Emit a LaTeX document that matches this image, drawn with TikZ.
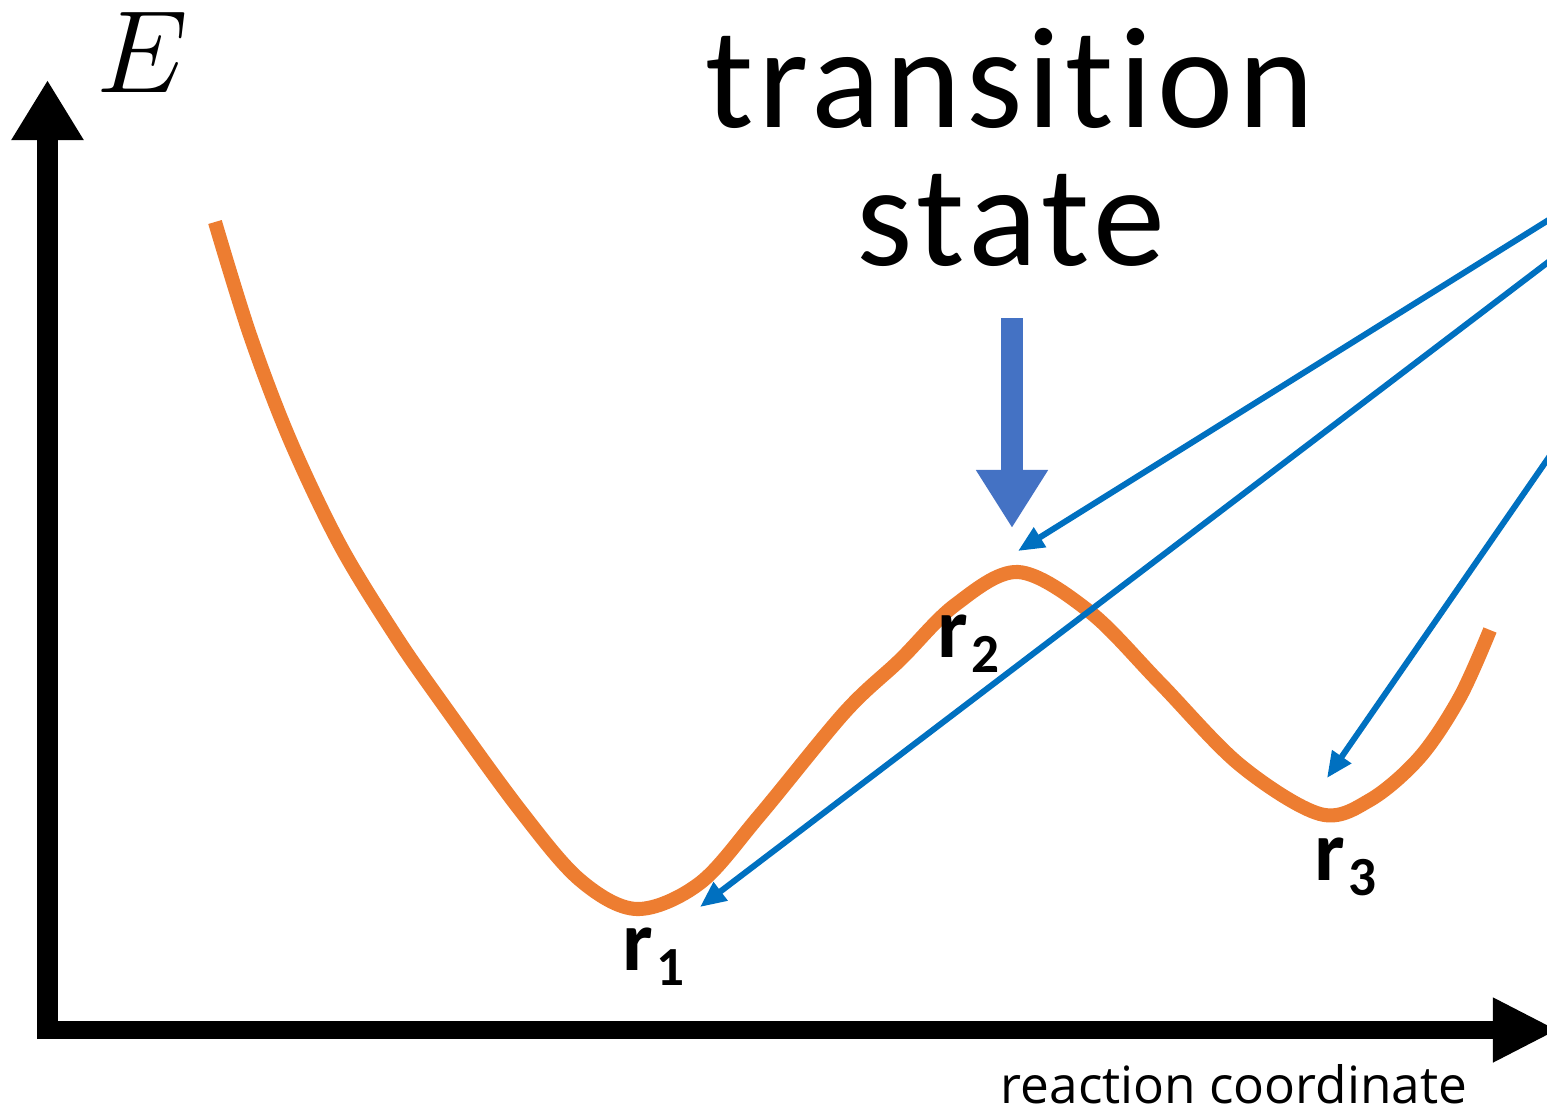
\documentclass[tikz,border=0pt]{standalone}
\usepackage{graphicx}
\usepackage{fontspec}
\setmainfont{Carlito}[Ligatures=NoCommon]
\newfontfamily\titlefont{Carlito}[Ligatures=NoCommon,LetterSpace=3.6]
\newfontfamily\rcfont{Open Sans}
\usetikzlibrary{arrows.meta}
\definecolor{curveorange}{RGB}{237,125,49}
\definecolor{pointblue}{RGB}{0,112,192}
\definecolor{tsblue}{RGB}{68,114,196}
\begin{document}
\begin{tikzpicture}[x=0.01cm,y=-0.01cm,
  axisline/.style={line width=#1, -{Triangle[width=0.68cm,length=0.6cm]}},
  curveline/.style={curveorange, line width=4pt},
  pointer/.style={pointblue, line width=1.7pt, -{Triangle[width=0.22cm,length=0.26cm]}},
  tsarrow/.style={tsblue, line width=6.5pt, -{Triangle[width=0.68cm,length=0.58cm]}},
  titletext/.style={font=\titlefont\fontsize{41}{41}\selectfont, inner sep=0pt, anchor=base},
  rlabel/.style={font=\bfseries\fontsize{24.5}{24.5}\selectfont, inner sep=0pt, anchor=base west},
]
\useasboundingbox (0,0) rectangle (1547,1111);
\clip (0,0) rectangle (1547,1111);

% axes
\coordinate (ybot) at (47.5,1039);
\coordinate (ytop) at (47.5,80);
\coordinate (xleft) at (40,1030);
\coordinate (xright) at (1558,1030);
\draw[axisline=6pt] (ybot) -- (ytop);
\draw[axisline=5.1pt, -{Triangle[width=0.6cm,length=0.65cm]}] (xleft) -- (xright);

\node[inner sep=0pt, font=\Huge] (elabel) at (142,52) {\scalebox{1.34}{$E$}};
\node[inner sep=0pt, anchor=base, text depth=0pt, font=\rcfont\fontsize{14.6}{14.6}\selectfont] (rclabel) at (1234,1103) {reaction coordinate};

% energy curve
\draw[curveline] plot[smooth, tension=0.55] coordinates {
  (215,222) (250,335) (290,440) (340,545) (395,635) (440,700) (520,810) (580,880) (637,909)
  (700,883) (760,815) (845,712) (900,660) (955,605) (1018,572)
  (1090,612) (1160,683) (1240,765) (1320,814) (1370,800) (1420,757) (1460,697) (1490,630)};

% transition state title and arrow
\node[titletext] (ts1) at (1010,127) {transition};
\node[titletext] (ts2) at (1011,265) {state};
\coordinate (tsA) at (1012,318);
\coordinate (tsB) at (1012,528);
\draw[tsarrow] (tsA) -- (tsB);

% labels
\node[rlabel] (r1) at (622,970) {r\hspace{1pt}\raisebox{-4.3pt}{\fontsize{15.7}{15.7}\selectfont 1}};
\node[rlabel] (r2) at (937,657) {r\hspace{1pt}\raisebox{-4.3pt}{\fontsize{15.7}{15.7}\selectfont 2}};
\node[rlabel] (r3) at (1314,880) {r\hspace{1pt}\raisebox{-4.3pt}{\fontsize{15.7}{15.7}\selectfont 3}};

% blue pointers from the right
\coordinate (p1s) at (1575,203.5);
\coordinate (p1e) at (1018,551);
\coordinate (p2s) at (1575,241.7);
\coordinate (p2e) at (700,907);
\coordinate (p3s) at (1575,419.5);
\coordinate (p3e) at (1327,778);
\draw[pointer] (p1s) -- (p1e);
\draw[pointer] (p2s) -- (p2e);
\draw[pointer] (p3s) -- (p3e);
\end{tikzpicture}
\end{document}
